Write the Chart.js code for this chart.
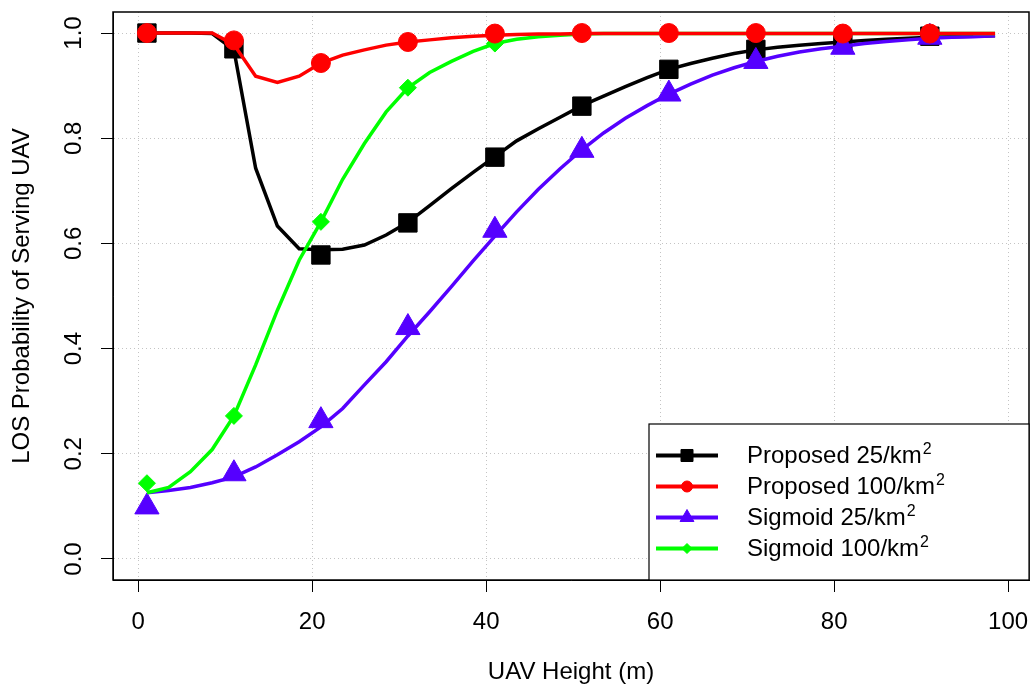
<!DOCTYPE html>
<html>
<head>
<meta charset="utf-8">
<script src="https://cdn.jsdelivr.net/npm/chart.js@4.4.1/dist/chart.umd.min.js"></script>
<style>
  body { margin: 0; background: #fff; }
  #wrap { position: relative; width: 1033px; height: 685px; }
</style>
</head>
<body>
<div id="wrap"><canvas id="los-chart" width="1033" height="685"></canvas></div>
<script>
// analytical curves, sampled every 2.5 m
const lineHeights = [1, 3.5, 6, 8.5, 11, 13.5, 16, 18.5, 21, 23.5, 26, 28.5, 31, 33.5, 36, 38.5, 41, 43.5, 46, 48.5,
                     51, 53.5, 56, 58.5, 61, 63.5, 66, 68.5, 71, 73.5, 76, 78.5, 81, 83.5, 86, 88.5, 91, 93.5, 96, 98.5];
const proposed25Line = [1.000, 1.000, 1.000, 0.999, 0.968, 0.743, 0.633, 0.590, 0.588, 0.589, 0.597, 0.616, 0.640, 0.672, 0.704, 0.735, 0.765, 0.795, 0.818, 0.840,
                        0.862, 0.880, 0.898, 0.915, 0.931, 0.942, 0.952, 0.961, 0.968, 0.973, 0.977, 0.980, 0.983, 0.986, 0.988, 0.990, 0.992, 0.993, 0.994, 0.995];
const proposed100Line = [1.000, 1.000, 1.000, 1.000, 0.978, 0.918, 0.906, 0.918, 0.943, 0.958, 0.968, 0.977, 0.983, 0.987, 0.991, 0.994, 0.996, 0.997, 0.998, 0.998,
                         0.999, 0.999, 0.999, 0.999, 0.999, 0.999, 0.999, 0.999, 0.999, 0.999, 0.999, 0.999, 0.999, 0.999, 0.999, 0.999, 0.999, 0.999, 0.999, 0.999];
const sigmoid25Line = [0.126, 0.130, 0.136, 0.145, 0.156, 0.175, 0.198, 0.223, 0.251, 0.286, 0.331, 0.375, 0.424, 0.470, 0.518, 0.567, 0.614, 0.660, 0.703, 0.742,
                       0.778, 0.810, 0.838, 0.862, 0.884, 0.903, 0.920, 0.934, 0.946, 0.956, 0.964, 0.970, 0.975, 0.980, 0.984, 0.987, 0.990, 0.992, 0.993, 0.995];
const sigmoid100Line = [0.126, 0.136, 0.166, 0.208, 0.272, 0.369, 0.473, 0.568, 0.641, 0.722, 0.790, 0.850, 0.896, 0.925, 0.946, 0.965, 0.980, 0.988, 0.993, 0.996,
                        0.998, 0.999, 0.999, 0.999, 0.999, 0.999, 0.999, 0.999, 0.999, 0.999, 0.999, 0.999, 0.999, 0.999, 0.999, 0.999, 0.999, 0.999, 0.999, 0.999];

// simulated points (markers)
const markerHeights = [1, 11, 21, 31, 41, 51, 61, 71, 81, 91];
const proposed25Sim = [1.000, 0.970, 0.578, 0.639, 0.764, 0.861, 0.931, 0.969, 0.983, 0.994];
const proposed100Sim = [1.000, 0.986, 0.943, 0.983, 0.999, 1.000, 1.000, 1.000, 0.999, 0.999];
const sigmoid25Sim = [0.099, 0.162, 0.263, 0.440, 0.625, 0.777, 0.884, 0.946, 0.973, 0.992];
const sigmoid100Sim = [0.144, 0.272, 0.641, 0.896, 0.980, 0.998, 1.000, 1.000, 1.000, 1.000];

const xTicks = [0, 20, 40, 60, 80, 100];
const yTicks = [0, 0.2, 0.4, 0.6, 0.8, 1.0];
const legendLabels = ['Proposed 25/km', 'Proposed 100/km', 'Sigmoid 25/km', 'Sigmoid 100/km'];
const legendSup = '2';

const FONT = '"Liberation Sans", Arial, Helvetica, sans-serif';

// draw order: red on top, then green, purple, black at the bottom
const series = [
  { color: '#000000', shape: 'rect',     line: proposed25Line,  sim: proposed25Sim,  r: 13,  lr: 8.5, order: 6 },
  { color: '#ff0000', shape: 'circle',   line: proposed100Line, sim: proposed100Sim, r: 9.5, lr: 5.5, order: 0 },
  { color: '#5500ff', shape: 'triangle', line: sigmoid25Line,   sim: sigmoid25Sim,   r: 14,  lr: 8,   order: 4 },
  { color: '#00ff00', shape: 'rectRot',  line: sigmoid100Line,  sim: sigmoid100Sim,  r: 8.5, lr: 5,   order: 2 }
];

function pairs(xs, ys) {
  return xs.map((x, i) => ({ x: x, y: ys[i] }));
}

const datasets = [];
series.forEach((s, i) => {
  datasets.push({
    label: legendLabels[i] + ' line',
    data: pairs(lineHeights, s.line),
    showLine: true,
    borderColor: s.color,
    borderWidth: 3.5,
    pointRadius: 0,
    tension: 0,
    fill: false,
    order: s.order + 1
  });
  datasets.push({
    label: legendLabels[i],
    data: pairs(markerHeights, s.sim),
    showLine: false,
    pointStyle: s.shape,
    pointRadius: s.r,
    pointBorderWidth: 1,
    pointBackgroundColor: s.color,
    pointBorderColor: s.color,
    order: s.order
  });
});

// box round the plot, rotated y labels and the R style legend
const framePlugin = {
  id: 'frame',
  afterDraw(chart) {
    const ctx = chart.ctx;
    const a = chart.chartArea;
    const ys = chart.scales.y;
    ctx.save();

    ctx.fillStyle = '#000';
    ctx.font = '24px ' + FONT;
    ctx.textAlign = 'center';
    ctx.textBaseline = 'middle';
    yTicks.forEach(v => {
      ctx.save();
      ctx.translate(74, ys.getPixelForValue(v));
      ctx.rotate(-Math.PI / 2);
      ctx.fillText(v.toFixed(1), 0, 0);
      ctx.restore();
    });

    ctx.strokeStyle = '#000';
    ctx.lineWidth = 1.5;
    ctx.strokeRect(a.left, a.top, a.right - a.left, a.bottom - a.top);

    // legend, bottom right corner
    const lw = 380, lh = 156;
    const lx = a.right - lw, ly = a.bottom - lh;
    ctx.fillStyle = '#fff';
    ctx.fillRect(lx, ly, lw, lh);
    ctx.lineWidth = 1.2;
    ctx.strokeRect(lx, ly, lw, lh);

    series.forEach((s, i) => {
      const cy = ly + 31.5 + i * 31;
      ctx.strokeStyle = s.color;
      ctx.fillStyle = s.color;
      ctx.lineWidth = 4;
      ctx.beginPath();
      ctx.moveTo(lx + 7, cy);
      ctx.lineTo(lx + 69, cy);
      ctx.stroke();
      ctx.lineWidth = 1;
      Chart.helpers.drawPoint(ctx, { pointStyle: s.shape, radius: s.lr, borderWidth: 1, rotation: 0 }, lx + 38, cy);

      ctx.fillStyle = '#000';
      ctx.textAlign = 'left';
      ctx.textBaseline = 'middle';
      ctx.font = '24px ' + FONT;
      ctx.fillText(legendLabels[i], lx + 98, cy + 1);
      const w = ctx.measureText(legendLabels[i]).width;
      ctx.font = '16px ' + FONT;
      ctx.textBaseline = 'alphabetic';
      ctx.fillText(legendSup, lx + 98 + w + 1, cy - 2);
    });
    ctx.restore();
  }
};

function noEdgePadding(s) {
  s.paddingLeft = 0;
  s.paddingRight = 0;
  s.paddingTop = 0;
  s.paddingBottom = 0;
}

new Chart(document.getElementById('los-chart'), {
  type: 'scatter',
  data: { datasets: datasets },
  options: {
    responsive: false,
    animation: false,
    layout: { autoPadding: false, padding: { top: 12, right: 4, left: 0, bottom: 0 } },
    plugins: {
      legend: { display: false },
      tooltip: { enabled: false }
    },
    scales: {
      x: {
        type: 'linear',
        min: -2.9,
        max: 102.4,
        afterBuildTicks: s => { s.ticks = xTicks.map(v => ({ value: v })); },
        afterFit: s => { s.height = 105; noEdgePadding(s); },
        ticks: {
          font: { size: 24, family: FONT },
          color: '#000',
          padding: 16,
          maxRotation: 0,
          autoSkip: false,
          callback: v => String(v)
        },
        grid: {
          color: '#c4c4c4',
          lineWidth: 1,
          drawTicks: true,
          tickLength: 12,
          tickColor: '#000',
          tickWidth: 1,
          tickBorderDash: []
        },
        border: { display: true, color: '#000', width: 1, dash: [1, 3] },
        title: {
          display: true,
          text: 'UAV Height (m)',
          color: '#000',
          font: { size: 24, family: FONT, lineHeight: 1 },
          padding: { top: 0, bottom: 1 }
        }
      },
      y: {
        type: 'linear',
        min: -0.04,
        max: 1.04,
        afterBuildTicks: s => { s.ticks = yTicks.map(v => ({ value: v })); },
        afterFit: s => { s.width = 113; noEdgePadding(s); },
        ticks: { display: false },
        grid: {
          color: '#c4c4c4',
          lineWidth: 1,
          drawTicks: true,
          tickLength: 12,
          tickColor: '#000',
          tickWidth: 1,
          tickBorderDash: []
        },
        border: { display: true, color: '#000', width: 1, dash: [1, 3] },
        title: {
          display: true,
          text: 'LOS Probability of Serving UAV',
          color: '#000',
          font: { size: 24, family: FONT, lineHeight: 1 },
          padding: { top: 10, bottom: 0 }
        }
      }
    }
  },
  plugins: [framePlugin]
});
</script>
</body>
</html>
